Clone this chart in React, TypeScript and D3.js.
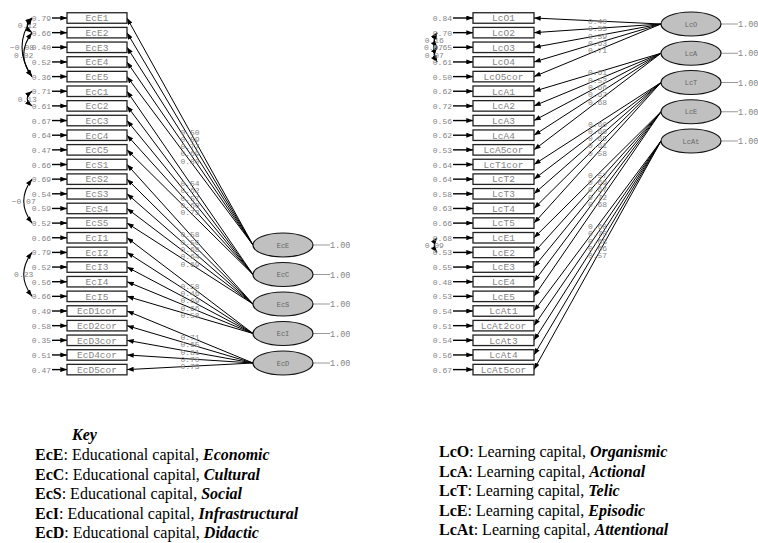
import React from "react";
import * as d3 from "d3";

// ---------- DATA ----------
const ecIndicators = ["EcE1","EcE2","EcE3","EcE4","EcE5","EcC1","EcC2","EcC3","EcC4","EcC5","EcS1","EcS2","EcS3","EcS4","EcS5","EcI1","EcI2","EcI3","EcI4","EcI5","EcD1cor","EcD2cor","EcD3cor","EcD4cor","EcD5cor"];
const ecFactorOf = ["EcE","EcE","EcE","EcE","EcE","EcC","EcC","EcC","EcC","EcC","EcS","EcS","EcS","EcS","EcS","EcI","EcI","EcI","EcI","EcI","EcD","EcD","EcD","EcD","EcD"];
const ecErrors = [0.79,0.66,0.40,0.52,0.36,0.71,0.61,0.67,0.64,0.47,0.66,0.69,0.54,0.59,0.52,0.66,0.79,0.52,0.56,0.66,0.49,0.58,0.35,0.51,0.47];
const ecLoadings = [0.50,0.59,0.77,0.69,0.80,0.54,0.62,0.57,0.60,0.73,0.58,0.56,0.68,0.64,0.69,0.58,0.46,0.69,0.66,0.58,0.71,0.65,0.81,0.70,0.73];
const ecLatents = ["EcE","EcC","EcS","EcI","EcD"];
const ecVariances = [1.0,1.0,1.0,1.0,1.0];
const ecCovFrom = ["EcE1","EcE1","EcE2","EcC1","EcS2","EcI2"];
const ecCovTo = ["EcE2","EcE5","EcE5","EcC2","EcS5","EcI5"];
const ecCovValues = [0.12,-0.08,0.02,0.13,-0.07,0.23];

const lcIndicators = ["LcO1","LcO2","LcO3","LcO4","LcO5cor","LcA1","LcA2","LcA3","LcA4","LcA5cor","LcT1cor","LcT2","LcT3","LcT4","LcT5","LcE1","LcE2","LcE3","LcE4","LcE5","LcAt1","LcAt2cor","LcAt3","LcAt4","LcAt5cor"];
const lcFactorOf = ["LcO","LcO","LcO","LcO","LcO","LcA","LcA","LcA","LcA","LcA","LcT","LcT","LcT","LcT","LcT","LcE","LcE","LcE","LcE","LcE","LcAt","LcAt","LcAt","LcAt","LcAt"];
const lcErrors = [0.84,0.70,0.65,0.61,0.50,0.62,0.72,0.56,0.62,0.53,0.64,0.64,0.58,0.63,0.66,0.68,0.53,0.55,0.48,0.53,0.54,0.51,0.54,0.56,0.67];
const lcLoadings = [0.40,0.55,0.59,0.63,0.71,0.61,0.53,0.66,0.62,0.68,0.60,0.60,0.65,0.61,0.58,0.57,0.69,0.67,0.72,0.68,0.68,0.70,0.68,0.66,0.57];
const lcLatents = ["LcO","LcA","LcT","LcE","LcAt"];
const lcVariances = [1.0,1.0,1.0,1.0,1.0];
const lcCovFrom = ["LcO2","LcO2","LcO3","LcE1"];
const lcCovTo = ["LcO3","LcO4","LcO4","LcE2"];
const lcCovValues = [0.16,0.07,0.07,0.09];

const ecKeyCodes = ["EcE","EcC","EcS","EcI","EcD"];
const ecKeyNames = ["Economic","Cultural","Social","Infrastructural","Didactic"];
const lcKeyCodes = ["LcO","LcA","LcT","LcE","LcAt"];
const lcKeyNames = ["Organismic","Actional","Telic","Episodic","Attentional"];

// ---------- STYLE ----------
const mono = "'Liberation Mono','DejaVu Sans Mono',monospace";
const serif = "'Liberation Serif','Times New Roman',serif";
const fmt = d3.format(".2f");
const GRAY = "#858585";

type SideProps = {
  indicators: string[]; factorOf: string[]; errors: number[]; loadings: number[];
  latents: string[]; variances: number[];
  covFrom: string[]; covTo: string[]; covValues: number[];
  boxX0: number; boxX1: number; ellCx: number; latRange: [number, number];
  errEnd: number; covX0: number; bulgeBase: number; bulgeK: number; bulgeMax: number;
};

function Side(p: SideProps) {
  const rowY = d3.scalePoint<string>().domain(p.indicators).range([18, 369.6]);
  const latY = d3.scalePoint<string>().domain(p.latents).range(p.latRange);
  const rx = 30, ry = 12, bh = 10.5;
  const bw = p.boxX1 - p.boxX0;
  return (
    <g>
      {/* covariances */}
      {p.covFrom.map((f, i) => {
        const y1 = rowY(f)!, y2 = rowY(p.covTo[i])!;
        const span = Math.abs(y2 - y1);
        const off = Math.min(p.bulgeMax, p.bulgeBase + span * p.bulgeK);
        const path = d3.path();
        path.moveTo(p.covX0, y1);
        path.quadraticCurveTo(p.covX0 - 2 * off, (y1 + y2) / 2, p.covX0, y2);
        return (
          <g key={"c" + i}>
            <path d={path.toString()} fill="none" stroke="#000" strokeWidth={1.1}
              markerStart="url(#ah)" markerEnd="url(#ah)" />
            <text x={p.covX0 - off} y={(y1 + y2) / 2 + 3} fontFamily={mono} fontSize={8}
              fill={GRAY} textAnchor="middle">{fmt(p.covValues[i])}</text>
          </g>
        );
      })}
      {/* loading lines */}
      {p.indicators.map((ind, i) => (
        <line key={"l" + i} x1={p.ellCx - rx} y1={latY(p.factorOf[i])!} x2={p.boxX1} y2={rowY(ind)!}
          stroke="#000" strokeWidth={1} markerEnd="url(#ah)" />
      ))}
      {/* loading labels */}
      {p.indicators.map((ind, i) => {
        const x = (p.ellCx - rx + p.boxX1) / 2;
        const y = (latY(p.factorOf[i])! + rowY(ind)!) / 2;
        return (
          <text key={"lt" + i} x={x} y={y + 3} fontFamily={mono} fontSize={8} fill={GRAY}
            textAnchor="middle">{fmt(p.loadings[i])}</text>
        );
      })}
      {/* error arrows and boxes */}
      {p.indicators.map((ind, i) => {
        const y = rowY(ind)!;
        return (
          <g key={"b" + i}>
            <line x1={p.errEnd + 1} y1={y} x2={p.boxX0} y2={y} stroke="#000" strokeWidth={1.4} markerEnd="url(#ah)" />
            <text x={p.errEnd} y={y + 3} fontFamily={mono} fontSize={8} fill={GRAY} textAnchor="end">{fmt(p.errors[i])}</text>
            <rect x={p.boxX0} y={y - bh / 2} width={bw} height={bh} fill="#fff" stroke="#222" strokeWidth={1.3} />
            <text x={p.boxX0 + bw / 2} y={y + 3.3} fontFamily={mono} fontSize={9.5} fill={GRAY} textAnchor="middle">{ind}</text>
          </g>
        );
      })}
      {/* latents */}
      {p.latents.map((l, i) => {
        const cy = latY(l)!;
        return (
          <g key={"e" + i}>
            <line x1={p.ellCx + rx} y1={cy} x2={p.ellCx + rx + 17} y2={cy} stroke="#999" strokeWidth={1} />
            <text x={p.ellCx + rx + 17} y={cy + 3} fontFamily={mono} fontSize={8.5} fill={GRAY}>{fmt(p.variances[i])}</text>
            <ellipse cx={p.ellCx} cy={cy} rx={rx} ry={ry} fill="#c0c0c0" stroke="#111" strokeWidth={1.2} />
            <text x={p.ellCx} y={cy + 2.5} fontFamily={mono} fontSize={7} fill="#666" textAnchor="middle">{l}</text>
          </g>
        );
      })}
    </g>
  );
}

function Key({ x, y0, codes, names, prefix }: { x: number; y0: number; codes: string[]; names: string[]; prefix: string }) {
  return (
    <g fontFamily={serif} fontSize={16} fill="#000">
      {codes.map((c, i) => (
        <text key={c} x={x} y={y0 + i * 19.6}>
          <tspan fontWeight="bold">{c}</tspan>
          <tspan>{": " + prefix + ", "}</tspan>
          <tspan fontWeight="bold" fontStyle="italic">{names[i]}</tspan>
        </text>
      ))}
    </g>
  );
}

export default function App() {
  return (
    <svg width={758} height={543} style={{ position: "absolute", left: 0, top: 0, background: "#fff" }}>
      <defs>
        <marker id="ah" viewBox="0 0 8 6" refX={8} refY={3} markerWidth={7} markerHeight={5}
          orient="auto-start-reverse" markerUnits="userSpaceOnUse">
          <path d="M0,0L8,3L0,6Z" fill="#000" />
        </marker>
      </defs>
      <rect width={758} height={543} fill="#fff" />
      <Side indicators={ecIndicators} factorOf={ecFactorOf} errors={ecErrors} loadings={ecLoadings}
        latents={ecLatents} variances={ecVariances} covFrom={ecCovFrom} covTo={ecCovTo} covValues={ecCovValues}
        boxX0={67} boxX1={127} ellCx={283} latRange={[245, 363]} errEnd={51} covX0={32}
        bulgeBase={3} bulgeK={0.12} bulgeMax={10} />
      <Side indicators={lcIndicators} factorOf={lcFactorOf} errors={lcErrors} loadings={lcLoadings}
        latents={lcLatents} variances={lcVariances} covFrom={lcCovFrom} covTo={lcCovTo} covValues={lcCovValues}
        boxX0={473} boxX1={534} ellCx={691} latRange={[24, 141]} errEnd={452} covX0={437}
        bulgeBase={2} bulgeK={0.05} bulgeMax={4} />
      <text x={72} y={440} fontFamily={serif} fontSize={16} fontWeight="bold" fontStyle="italic">Key</text>
      <Key x={35} y0={460} codes={ecKeyCodes} names={ecKeyNames} prefix="Educational capital" />
      <Key x={439} y0={457} codes={lcKeyCodes} names={lcKeyNames} prefix="Learning capital" />
    </svg>
  );
}
